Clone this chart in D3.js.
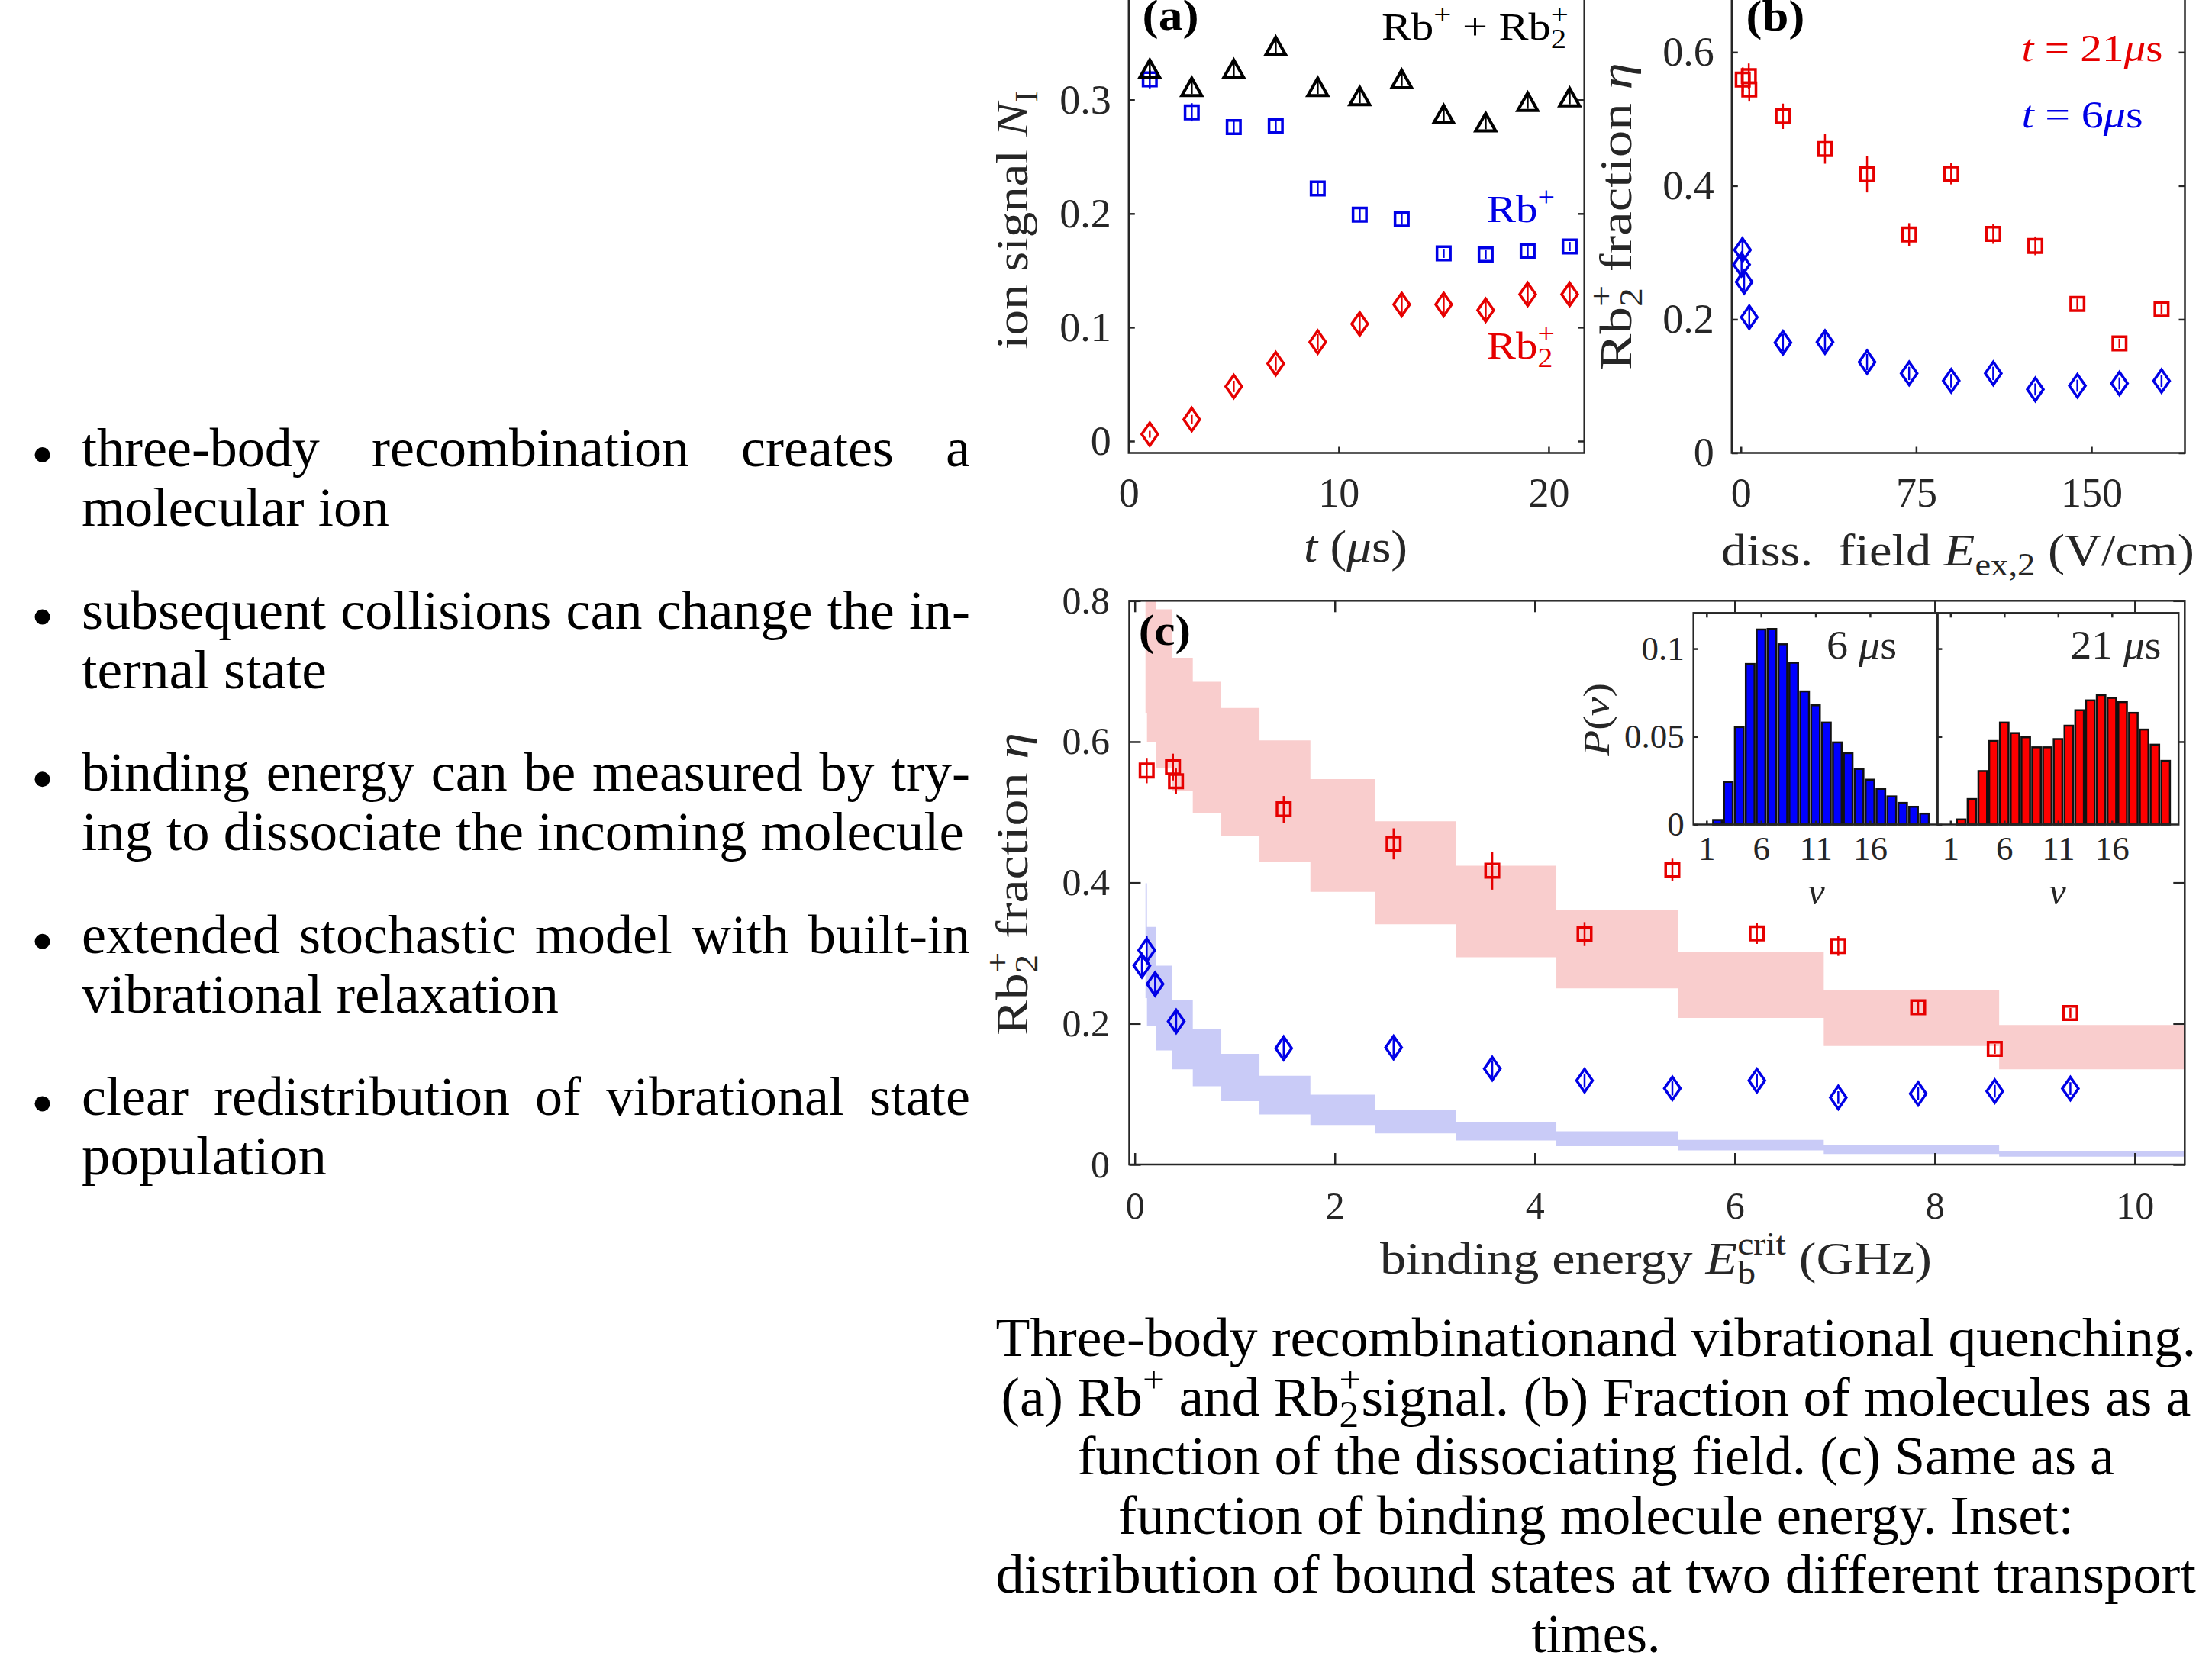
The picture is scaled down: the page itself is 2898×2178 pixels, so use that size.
<!DOCTYPE html>
<html><head><meta charset="utf-8">
<script src="https://cdn.jsdelivr.net/npm/d3@7"></script>
<style>
html,body{margin:0;padding:0;background:#fff;}
svg{display:block;}
text{font-family:"Liberation Serif","DejaVu Serif",serif;white-space:pre;}
</style></head><body>
<svg id="fig" width="2898" height="2178"></svg>
<script>
// ================= DATA =================
// panel (a): ion signal vs time
const tA    = [1, 3, 5, 7, 9, 11, 13, 15, 17, 19, 21];
const sumA  = [0.327, 0.311, 0.327, 0.347, 0.311, 0.303, 0.318, 0.287, 0.280, 0.298, 0.302];
const sumE  = [0.006, 0.006, 0.006, 0.006, 0.006, 0.006, 0.006, 0.006, 0.006, 0.006, 0.006];
const rbA   = [0.318, 0.289, 0.276, 0.277, 0.222, 0.199, 0.195, 0.165, 0.164, 0.167, 0.171];
const rbE   = [0.008, 0.008, 0.006, 0.006, 0.006, 0.005, 0.005, 0.004, 0.004, 0.004, 0.004];
const rb2A  = [0.006, 0.019, 0.048, 0.068, 0.087, 0.103, 0.120, 0.120, 0.115, 0.129, 0.129];
const rb2E  = [0.003, 0.004, 0.005, 0.006, 0.007, 0.008, 0.008, 0.008, 0.008, 0.008, 0.008];

// panels (b),(c): Rb2+ fraction
const fieldRed = [0.8, 3.4, 3.6, 18, 36, 54, 72, 90, 108, 126, 144, 162, 180];
const ebRed    = [0.119, 0.382, 0.412, 1.489, 2.588, 3.575, 4.498, 5.376, 6.221, 7.035, 7.834, 8.60, 9.356];
const etaRed   = [0.559, 0.564, 0.544, 0.504, 0.455, 0.417, 0.327, 0.418, 0.328, 0.310, 0.223, 0.164, 0.215];
const errRed   = [0.018, 0.019, 0.018, 0.019, 0.022, 0.027, 0.017, 0.016, 0.015, 0.014, 0.008, 0.007, 0.007];
const fieldBlue = [0.3, 0.7, 1.4, 3.6, 18, 36, 54, 72, 90, 108, 126, 144, 162, 180];
const ebBlue    = [0.071, 0.119, 0.203, 0.414, 1.489, 2.588, 3.575, 4.498, 5.376, 6.221, 7.035, 7.834, 8.60, 9.356];
const etaBlue   = [0.282, 0.304, 0.256, 0.203, 0.165, 0.166, 0.136, 0.119, 0.108, 0.119, 0.095, 0.1005, 0.104, 0.1077];
const errBlue   = [0.014, 0.020, 0.013, 0.014, 0.013, 0.013, 0.012, 0.010, 0.010, 0.010, 0.009, 0.009, 0.009, 0.009];

// model bands in (c): step edges (GHz) and lower/upper bounds
const bandEdges = [0.107, 0.122, 0.216, 0.369, 0.58, 0.865, 1.247, 1.756, 2.405, 3.214, 4.216, 5.432, 6.89, 8.644, 10.5];
const redLo  = [0.640, 0.600, 0.562, 0.530, 0.499, 0.466, 0.429, 0.387, 0.341, 0.294, 0.250, 0.208, 0.168, 0.135];
const redHi  = [0.820, 0.820, 0.788, 0.719, 0.685, 0.648, 0.602, 0.547, 0.487, 0.424, 0.361, 0.301, 0.248, 0.198];
const blueLo = [0.236, 0.197, 0.162, 0.135, 0.111, 0.090, 0.071, 0.056, 0.044, 0.034, 0.026, 0.020, 0.015, 0.011];
const blueHi = [0.399, 0.337, 0.282, 0.234, 0.192, 0.157, 0.126, 0.099, 0.077, 0.060, 0.047, 0.035, 0.027, 0.019];

// inset histograms
const nu  = [1, 2, 3, 4, 5, 6, 7, 8, 9, 10, 11, 12, 13, 14, 15, 16, 17, 18, 19, 20, 21];
const p6  = [0, 0.0026, 0.0242, 0.0554, 0.0913, 0.1109, 0.1112, 0.1025, 0.0920, 0.0757, 0.0678, 0.0580, 0.0467, 0.0406, 0.0316, 0.0255, 0.0203, 0.0160, 0.0123, 0.0101, 0.0062];
const p21 = [0, 0.0029, 0.0145, 0.0304, 0.0475, 0.0580, 0.0520, 0.0496, 0.0439, 0.0439, 0.0486, 0.0562, 0.0650, 0.0706, 0.0736, 0.0720, 0.0696, 0.0635, 0.0540, 0.0454, 0.0362];

// tick labels
const ticksAx = [0, 10, 20], ticksAy = [0, 0.1, 0.2, 0.3];
const ticksBx = [0, 75, 150], ticksBy = [0, 0.2, 0.4, 0.6];
const ticksCx = [0, 2, 4, 6, 8, 10], ticksCy = [0, 0.2, 0.4, 0.6, 0.8];
const ticksIx = [1, 6, 11, 16], ticksIy = [0, 0.05, 0.1];

// text
const bulletParas = [
  ["three-body recombination creates a", "molecular ion"],
  ["subsequent collisions can change the in-", "ternal state"],
  ["binding energy can be measured by try-", "ing to dissociate the incoming molecule"],
  ["extended stochastic model with built-in", "vibrational relaxation"],
  ["clear redistribution of vibrational state", "population"]
];

// ================= HELPERS =================
const svg = d3.select('#fig');
const AX = '#262626';
const RED = '#e60000', BLUE = '#0000e6';
const FONT = '"Liberation Serif","DejaVu Serif",serif';

function rich(parent, segs, F, o) {
  const g = parent.append('g');
  const t = g.append('text').attr('font-size', F).attr('fill', o.fill || AX)
    .attr('font-weight', o.weight || 'normal');
  let cur = 0;
  segs.forEach(s => {
    if (typeof s === 'string') s = {t: s};
    const fs = (s.sub || s.sup) ? F * 0.7 : F;
    const target = s.sub ? 0.22 * F : (s.sup ? -0.42 * F : 0);
    const ts = t.append('tspan').text(s.t).attr('font-size', fs);
    if (s.it) ts.attr('font-style', 'italic');
    if (target !== cur) { ts.attr('dy', target - cur); cur = target; }
    if (s.dx) ts.attr('dx', s.dx * F);
  });
  const bb = t.node().getBBox();
  const sx = o.width ? o.width / bb.width : (o.sx || 1);
  const off = o.anchor === 'middle' ? bb.x + bb.width / 2 : (o.anchor === 'end' ? bb.x + bb.width : bb.x);
  g.attr('transform', `translate(${o.x},${o.y}) rotate(${o.rotate || 0}) scale(${sx},1) translate(${-off},0)`);
  return g;
}

function styleAxis(g, F) {
  g.attr('font-family', FONT).attr('font-size', F);
  g.select('.domain').remove();
  g.selectAll('.tick line').attr('stroke', AX).attr('stroke-width', 2.5);
  g.selectAll('.tick text').attr('fill', AX);
}

const SHAPES = {
  sq: 'M-8.75,-8.75H8.75V8.75H-8.75Z',
  dia: 'M0,-15L10.5,0L0,15L-10.5,0Z',
  tri: 'M0,-12L13,11H-13Z'
};
function series(g, xs, ys, es, sx, sy, shape, color, sw) {
  const d = xs.map((x, i) => ({x, y: ys[i], e: es[i]}));
  g.append('g').selectAll('line').data(d).join('line')
    .attr('x1', p => sx(p.x)).attr('x2', p => sx(p.x))
    .attr('y1', p => sy(p.y - p.e)).attr('y2', p => sy(p.y + p.e))
    .attr('stroke', color).attr('stroke-width', 2.5);
  g.append('g').selectAll('path').data(d).join('path')
    .attr('d', SHAPES[shape])
    .attr('transform', p => `translate(${sx(p.x)},${sy(p.y)})`)
    .attr('fill', 'none').attr('stroke', color).attr('stroke-width', sw || 3.5)
    .attr('stroke-linejoin', 'miter');
}

// ================= PANEL (a) =================
const xA = d3.scaleLinear().domain([0, 21.7]).range([1478.8, 2075.7]);
const yA = d3.scaleLinear().domain([-0.0104, 0.3944]).range([593.5, -10]);
const gA = svg.append('g');
styleAxis(gA.append('g').attr('transform', `translate(${xA.range()[0]},0)`)
  .call(d3.axisLeft(yA).tickValues(ticksAy).tickSize(-8).tickPadding(23).tickFormat(d => String(d))), 54);
styleAxis(gA.append('g').attr('transform', `translate(${xA.range()[1]},0)`)
  .call(d3.axisRight(yA).tickValues(ticksAy).tickSize(-8).tickFormat('')), 54);
styleAxis(gA.append('g').attr('transform', `translate(0,${yA.range()[0]})`)
  .call(d3.axisBottom(xA).tickValues(ticksAx).tickSize(-8).tickPadding(32).tickFormat(d => String(d))), 54);
gA.append('path').attr('d', `M${xA.range()[0]},${yA.range()[1]}V${yA.range()[0]}H${xA.range()[1]}V${yA.range()[1]}`)
  .attr('fill', 'none').attr('stroke', AX).attr('stroke-width', 2.5);
series(gA, tA, rbA, rbE, xA, yA, 'sq', BLUE);
series(gA, tA, rb2A, rb2E, xA, yA, 'dia', RED);
series(gA, tA, sumA, sumE, xA, yA, 'tri', '#000', 4);
rich(gA, ['(a)'], 56, {x: 1496.6, y: 39, width: 74, weight: 'bold', fill: '#000'});
rich(gA, ['Rb', {t: '+', sup: 1}, ' + Rb', {t: '2', sub: 1}, {t: '+', sup: 1, dx: -0.35}], 50, {x: 1810, y: 52, width: 245, fill: '#000'});
rich(gA, ['Rb', {t: '+', sup: 1}], 50, {x: 1948, y: 291, width: 89, fill: BLUE});
rich(gA, ['Rb', {t: '2', sub: 1}, {t: '+', sup: 1, dx: -0.35}], 50, {x: 1948, y: 470, width: 89, fill: RED});
rich(gA, ['ion signal ', {t: 'N', it: 1}, {t: 'I', sub: 1}], 60, {x: 1346, y: 288.5, rotate: -90, anchor: 'middle', width: 339});
rich(gA, [{t: 't', it: 1}, ' (', {t: 'μ', it: 1}, 's)'], 60, {x: 1776, y: 736, anchor: 'middle', width: 136});

// ================= PANEL (b) =================
const xB = d3.scaleLinear().domain([-3.9, 190]).range([2268.8, 2862.5]);
const yB = d3.scaleLinear().domain([0, 0.6895]).range([593.5, -10]);
const gB = svg.append('g');
styleAxis(gB.append('g').attr('transform', `translate(${xB.range()[0]},0)`)
  .call(d3.axisLeft(yB).tickValues(ticksBy).tickSize(-8).tickPadding(23).tickFormat(d => String(d))), 54);
styleAxis(gB.append('g').attr('transform', `translate(${xB.range()[1]},0)`)
  .call(d3.axisRight(yB).tickValues(ticksBy).tickSize(-8).tickFormat('')), 54);
styleAxis(gB.append('g').attr('transform', `translate(0,${yB.range()[0]})`)
  .call(d3.axisBottom(xB).tickValues(ticksBx).tickSize(-8).tickPadding(32).tickFormat(d => String(d))), 54);
gB.append('path').attr('d', `M${xB.range()[0]},${yB.range()[1]}V${yB.range()[0]}H${xB.range()[1]}V${yB.range()[1]}`)
  .attr('fill', 'none').attr('stroke', AX).attr('stroke-width', 2.5);
series(gB, fieldRed, etaRed, errRed, xB, yB, 'sq', RED);
series(gB, fieldBlue, etaBlue, errBlue, xB, yB, 'dia', BLUE);
rich(gB, ['(b)'], 56, {x: 2287.6, y: 40, width: 76.7, weight: 'bold', fill: '#000'});
rich(gB, [{t: 't', it: 1}, ' = 21', {t: 'μ', it: 1}, 's'], 50, {x: 2648.6, y: 80, width: 185, fill: RED});
rich(gB, [{t: 't', it: 1}, ' = 6', {t: 'μ', it: 1}, 's'], 50, {x: 2648.6, y: 167, width: 159, fill: BLUE});
rich(gB, ['Rb', {t: '2', sub: 1}, {t: '+', sup: 1, dx: -0.35}, ' fraction ', {t: 'η', it: 1}], 60, {x: 2137.4, y: 283.5, rotate: -90, anchor: 'middle', width: 403});
rich(gB, ['diss.  field ', {t: 'E', it: 1}, {t: 'ex,2', sub: 1}, ' (V/cm)'], 60, {x: 2565, y: 741, anchor: 'middle', width: 620});

// ================= PANEL (c) =================
const xC = d3.scaleLinear().domain([-0.055, 10.5]).range([1479.5, 2862.3]);
const yC = d3.scaleLinear().domain([0, 0.8]).range([1526, 787.3]);
const gC = svg.append('g');
svg.append('clipPath').attr('id', 'clipC').append('rect')
  .attr('x', xC.range()[0]).attr('y', yC.range()[1])
  .attr('width', xC.range()[1] - xC.range()[0]).attr('height', yC.range()[0] - yC.range()[1]);
const bandG = gC.append('g').attr('clip-path', 'url(#clipC)');
function band(lo, hi, color) {
  const pts = bandEdges.map((x, i) => ({x, lo: lo[Math.min(i, lo.length - 1)], hi: hi[Math.min(i, hi.length - 1)]}));
  const area = d3.area().curve(d3.curveStepAfter).x(p => xC(p.x)).y0(p => yC(p.lo)).y1(p => yC(p.hi));
  bandG.append('path').attr('d', area(pts)).attr('fill', color).attr('stroke', 'none');
}
band(redLo, redHi, '#f9cdcd');
band(blueLo, blueHi, '#c9cbf7');
styleAxis(gC.append('g').attr('transform', `translate(${xC.range()[0]},0)`)
  .call(d3.axisLeft(yC).tickValues(ticksCy).tickSize(-15).tickPadding(25.5).tickFormat(d => String(d))), 50);
styleAxis(gC.append('g').attr('transform', `translate(${xC.range()[1]},0)`)
  .call(d3.axisRight(yC).tickValues(ticksCy).tickSize(-15).tickFormat('')), 50);
styleAxis(gC.append('g').attr('transform', `translate(0,${yC.range()[0]})`)
  .call(d3.axisBottom(xC).tickValues(ticksCx).tickSize(-15).tickPadding(35).tickFormat(d => String(d))), 50);
styleAxis(gC.append('g').attr('transform', `translate(0,${yC.range()[1]})`)
  .call(d3.axisTop(xC).tickValues(ticksCx).tickSize(-15).tickFormat('')), 50);
gC.append('rect').attr('x', xC.range()[0]).attr('y', yC.range()[1])
  .attr('width', xC.range()[1] - xC.range()[0]).attr('height', yC.range()[0] - yC.range()[1])
  .attr('fill', 'none').attr('stroke', AX).attr('stroke-width', 2.5);
series(gC, ebRed, etaRed, errRed, xC, yC, 'sq', RED);
series(gC, ebBlue, etaBlue, errBlue, xC, yC, 'dia', BLUE);
rich(gC, ['(c)'], 56, {x: 1491.7, y: 845, width: 68.3, weight: 'bold', fill: '#000'});
rich(gC, ['Rb', {t: '2', sub: 1}, {t: '+', sup: 1, dx: -0.35}, ' fraction ', {t: 'η', it: 1}], 60, {x: 1346, y: 1158.5, rotate: -90, anchor: 'middle', width: 397});
rich(gC, ['binding energy ', {t: 'E', it: 1}, {t: 'b', sub: 1}, {t: 'crit', sup: 1, dx: -0.35}, ' (GHz)'], 60, {x: 2169.5, y: 1669, anchor: 'middle', width: 723});

// ================= INSET =================
const yI = d3.scaleLinear().domain([0, 0.1203]).range([1080.5, 803.3]);
const xIL = d3.scaleLinear().domain([-0.2, 22.2]).range([2218.7, 2538.4]);
const xIR = d3.scaleLinear().domain([-0.2, 22.2]).range([2538.4, 2854.2]);
const gI = svg.append('g');
gI.append('rect').attr('x', 2218.7).attr('y', 803.3).attr('width', 2854.2 - 2218.7).attr('height', 1080.5 - 803.3).attr('fill', '#fff');
function hist(xs, vals, color) {
  const bw = xs(0.8) - xs(0);
  gI.append('g').selectAll('rect').data(nu.map((n, i) => ({n, v: vals[i]}))).join('rect')
    .attr('x', d => xs(d.n) - bw / 2).attr('width', bw)
    .attr('y', d => yI(d.v)).attr('height', d => yI(0) - yI(d.v))
    .attr('fill', color).attr('stroke', '#111').attr('stroke-width', 2.5);
  styleAxis(gI.append('g').attr('transform', `translate(0,${yI.range()[0]})`)
    .call(d3.axisBottom(xs).tickValues(ticksIx).tickSize(-5).tickPadding(14.5).tickFormat(d => String(d))), 45);
  styleAxis(gI.append('g').attr('transform', `translate(0,${yI.range()[1]})`)
    .call(d3.axisTop(xs).tickValues(ticksIx).tickSize(-6).tickFormat('')), 45);
  gI.append('rect').attr('x', xs.range()[0]).attr('y', yI.range()[1])
    .attr('width', xs.range()[1] - xs.range()[0]).attr('height', yI.range()[0] - yI.range()[1])
    .attr('fill', 'none').attr('stroke', AX).attr('stroke-width', 2.5);
}
hist(xIL, p6, '#0000ff');
hist(xIR, p21, '#ff0000');
styleAxis(gI.append('g').attr('transform', `translate(${xIL.range()[0]},0)`)
  .call(d3.axisLeft(yI).tickValues(ticksIy).tickSize(-6).tickPadding(12).tickFormat(d => String(d))), 45);
styleAxis(gI.append('g').attr('transform', `translate(${xIR.range()[0]},0)`)
  .call(d3.axisLeft(yI).tickValues(ticksIy).tickSize(-6).tickFormat('')), 45);
rich(gI, [{t: 'P', it: 1}, '(', {t: 'ν', it: 1}, ')'], 48, {x: 2108, y: 943.5, rotate: -90, anchor: 'middle', width: 97});
rich(gI, ['6 ', {t: 'μ', it: 1}, 's'], 52, {x: 2393, y: 863, width: 92});
rich(gI, ['21 ', {t: 'μ', it: 1}, 's'], 52, {x: 2712.5, y: 863, width: 119});
rich(gI, [{t: 'ν', it: 1}], 50, {x: 2380, y: 1185, anchor: 'middle'});
rich(gI, [{t: 'ν', it: 1}], 50, {x: 2696, y: 1185, anchor: 'middle'});

// ================= BULLETS =================
const gT = svg.append('g');
const BF = 72, BX = 107, BR = 1271;
const lastWidths = [403, 321, 1156, 625, 321];
bulletParas.forEach((lines, p) => {
  const base = 611 + p * 212.6;
  gT.append('circle').attr('cx', 55.5).attr('cy', base - 15).attr('r', 10).attr('fill', '#000');
  lines.forEach((line, li) => {
    const y = base + li * 78;
    const isLast = li === lines.length - 1;
    if (!isLast) {
      const words = line.split(' ');
      const nodes = words.map(w => gT.append('text').attr('font-size', BF).attr('fill', '#000').attr('y', y).text(w));
      const ws = nodes.map(n => n.node().getComputedTextLength());
      const gap = (BR - BX - d3.sum(ws)) / (words.length - 1);
      let x = BX;
      nodes.forEach((n, i) => { n.attr('x', x); x += ws[i] + gap; });
    } else {
      rich(gT, [line], BF, {x: BX, y, width: lastWidths[p], fill: '#000'});
    }
  });
});

// ================= CAPTION =================
const CF = 71, CX = 2091;
const capLines = [
  [['Three-body recombinationand vibrational quenching.'], 1573],
  [['(a) Rb', {t: '+', sup: 1}, ' and Rb', {t: '2', sub: 1}, {t: '+', sup: 1, dx: -0.35}, 'signal. (b) Fraction of molecules as a'], 1559],
  [['function of the dissociating field. (c) Same as a'], 1359],
  [['function of binding molecule energy. Inset:'], 1252],
  [['distribution of bound states at two different transport'], 1573],
  [['times.'], 169]
];
capLines.forEach((c, i) => {
  rich(gT, c[0], CF, {x: CX, y: 1777 + i * 77.6, anchor: 'middle', width: c[1], fill: '#000'});
});
</script>
</body></html>
